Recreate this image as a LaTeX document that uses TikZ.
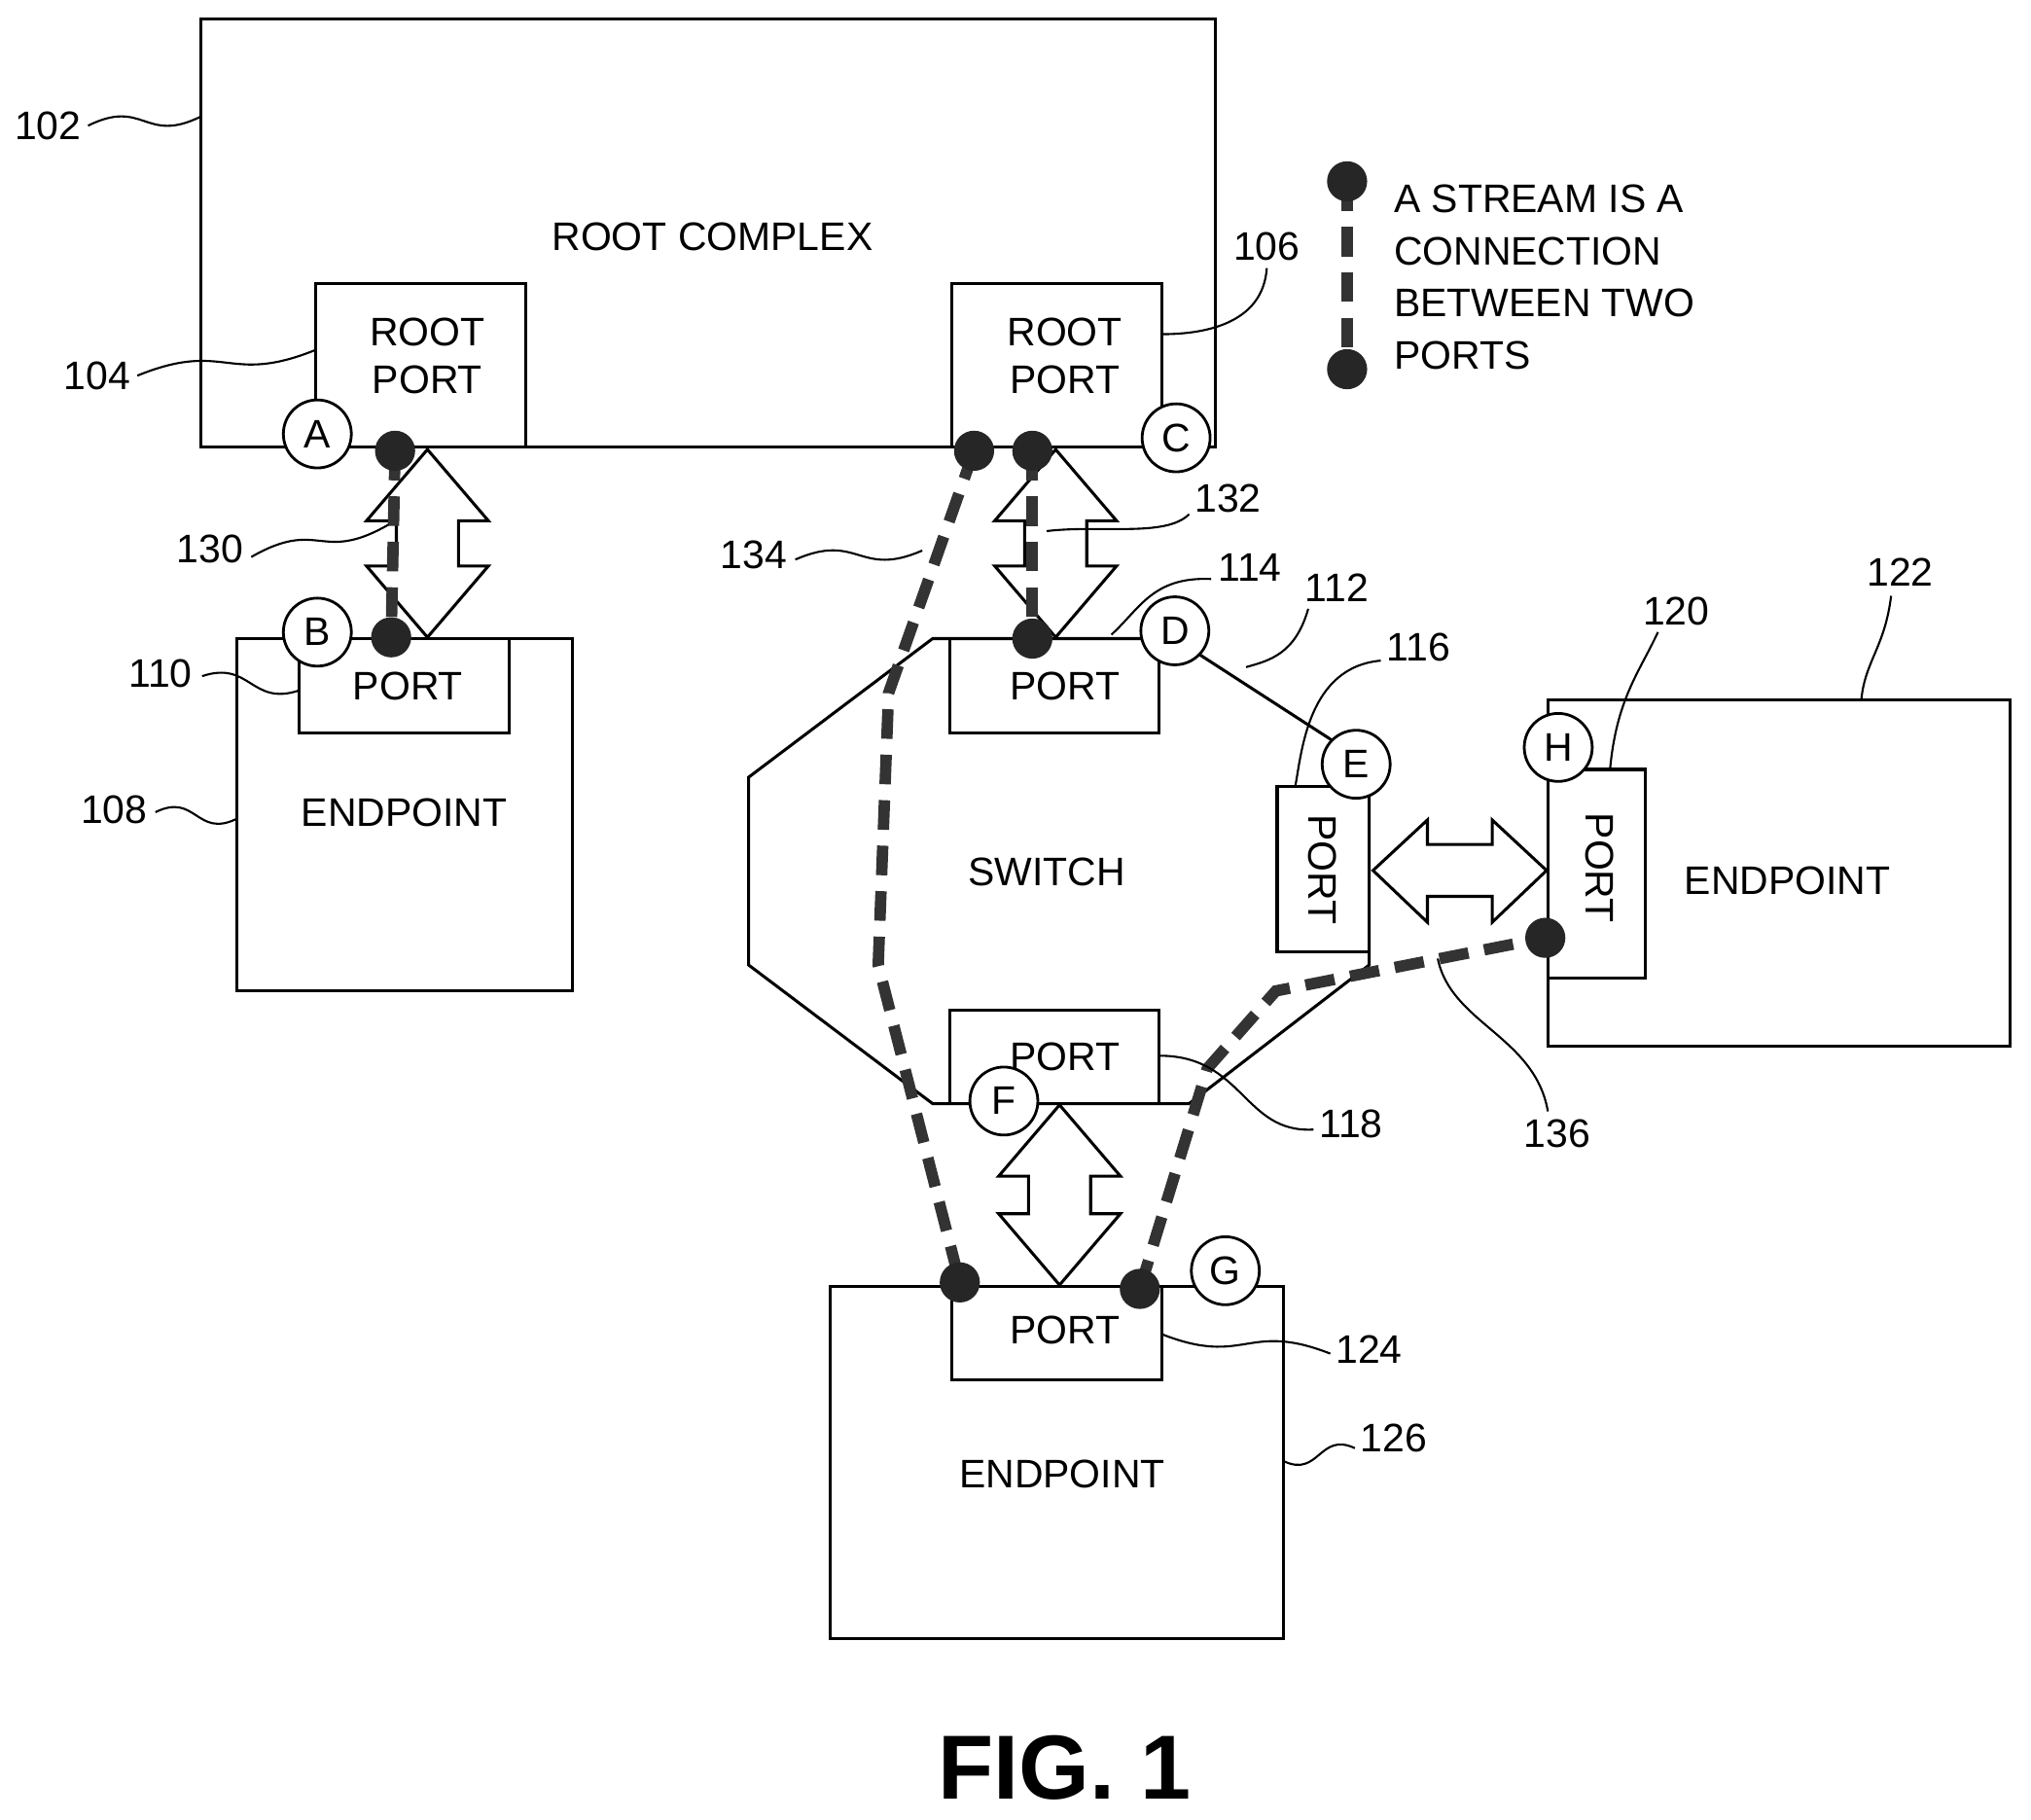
\documentclass[tikz,border=0pt]{standalone}
\usepackage{fontspec}
\setmainfont{Liberation Sans}
\usetikzlibrary{calc}
\begin{document}
\begin{tikzpicture}[x=0.02cm,y=-0.02cm,
  box/.style={draw,line width=1.3pt},
  lbl/.style={font=\fontsize{17.5}{21}\selectfont,align=center},
  num/.style={font=\fontsize{17.5}{21}\selectfont},
  circ/.style={draw,circle,fill=white,line width=1.2pt,minimum size=1.05cm,inner sep=0pt,font=\fontsize{17.5}{21}\selectfont},
  dot/.style={circle,fill=black!85,minimum size=0.62cm,inner sep=0pt},
  stream/.style={line width=5pt,dash pattern=on 13pt off 7pt,black!80},
  lead/.style={line width=0.9pt},
  harrow/.style={draw,fill=white,line width=1.3pt,line join=miter}]
\useasboundingbox (0,0) rectangle (1568,1405);
\newcommand{\leader}[2]{\draw[lead] (#1) .. controls ($(#1)!0.5!(#2)+(0,-18)$) and ($(#1)!0.5!(#2)+(0,18)$) .. (#2);}
% root complex
\draw[box] (155,15) rectangle (938,345);
\node[lbl] at (550,183) {ROOT COMPLEX};
\draw[box] (244,219) rectangle (406,345); \node[lbl] (rp1) at (330,275) {ROOT\\PORT};
\draw[box] (735,219) rectangle (897,345); \node[lbl] (rp2) at (822,275) {ROOT\\PORT};
% endpoint left
\draw[box] (183,493) rectangle (442,765);
\draw[box] (231,493) rectangle (393,566); \node[lbl] at (315,530) {PORT};
\node[lbl] at (312,627) {ENDPOINT};
% switch
\draw[box] (720,493) -- (907,493) -- (1057,590) -- (1057,745) -- (918,852) -- (720,852) -- (578,745) -- (578,600) -- cycle;
\node[lbl] at (808,673) {SWITCH};
\draw[box] (733,493) rectangle (895,566); \node[lbl] at (822,530) {PORT};
\draw[box] (986,607) rectangle (1057,735); \node[lbl,rotate=-90] at (1021,671) {PORT};
\draw[box,fill=white] (733,780) rectangle (895,852); \node[lbl] at (822,816) {PORT};
% endpoint right
\draw[box] (1195,540) rectangle (1552,808);
\draw[box] (1195,594) rectangle (1270,755); \node[lbl,rotate=-90] at (1235,670) {PORT};
\node[lbl] at (1380,680) {ENDPOINT};
% endpoint bottom
\draw[box] (641,993) rectangle (991,1265);
\draw[box] (735,993) rectangle (897,1065); \node[lbl] at (822,1027) {PORT};
\node[lbl] at (820,1138) {ENDPOINT};
% hollow double arrows
\newcommand{\vda}[3]{\draw[harrow] (#1,#2) -- (#1+47,#2+55) -- (#1+24,#2+55) -- (#1+24,#3-55) -- (#1+47,#3-55) -- (#1,#3) -- (#1-47,#3-55) -- (#1-24,#3-55) -- (#1-24,#2+55) -- (#1-47,#2+55) -- cycle;}
\vda{330}{347}{492}
\vda{815}{347}{492}
\vda{818}{853}{992}
\draw[harrow] (1060,672) -- (1102,633) -- (1102,652) -- (1152,652) -- (1152,633) -- (1194,672) -- (1152,712) -- (1152,692) -- (1102,692) -- (1102,712) -- cycle;
% dots
\coordinate (a1) at (305,348); \coordinate (b1) at (302,492);
\coordinate (c1) at (752,348); \coordinate (c2) at (797,348); \coordinate (d1) at (797,493);
\coordinate (g1) at (741,990); \coordinate (g2) at (880,995); \coordinate (h1) at (1193,724);
\coordinate (l1) at (1040,140); \coordinate (l2) at (1040,285);
% streams
\draw[stream] (a1) -- (b1);
\draw[stream] (c2) -- (d1);
\draw[stream] (c1) -- (686,535) -- (678,745) -- (g1);
\draw[stream] (g2) -- (932,825) -- (985,765) -- (h1);
\draw[stream] (l1) -- (l2);
\foreach \p in {a1,b1,c1,c2,d1,g1,g2,h1,l1,l2} \node[dot] at (\p) {};
% circles
\node[circ] (A) at (245,335) {A};
\node[circ] (B) at (245,488) {B};
\node[circ] (C) at (908,338) {C};
\node[circ] (D) at (907,487) {D};
\node[circ] (E) at (1047,590) {E};
\node[circ] (F) at (775,850) {F};
\node[circ] (G) at (946,981) {G};
\node[circ] (H) at (1203,577) {H};
% legend
\node[num,anchor=west,align=left] at (1070,214) {A STREAM IS A\\[2pt]CONNECTION\\[2pt]BETWEEN TWO\\[2pt]PORTS};
% reference numerals
\node[num] (n102) at (37,97) {102}; \leader{68,97}{155,90}
\node[num] (n104) at (75,290) {104}; \leader{106,290}{244,270}
\node[num] (n106) at (978,190) {106}; \draw[lead] (978,207) .. controls (975,250) and (930,258) .. (897,258);
\node[num] (n110) at (124,520) {110}; \leader{156,522}{231,533}
\node[num] (n108) at (88,625) {108}; \leader{120,627}{183,632}
\node[num] (n130) at (162,424) {130}; \leader{194,430}{300,405}
\node[num] (n134) at (582,428) {134}; \leader{614,432}{712,425}
\node[num] (n132) at (948,385) {132}; \draw[lead] (918,397) .. controls (900,415) and (850,405) .. (808,410);
\node[num] (n114) at (965,438) {114}; \draw[lead] (935,447) .. controls (890,445) and (880,470) .. (858,490);
\node[num] (n112) at (1032,454) {112}; \draw[lead] (1010,470) .. controls (1000,505) and (980,510) .. (962,515);
\node[num] (n116) at (1095,500) {116}; \draw[lead] (1066,510) .. controls (1010,515) and (1005,580) .. (1000,607);
\node[num] (n120) at (1294,472) {120}; \draw[lead] (1280,488) .. controls (1265,520) and (1248,540) .. (1243,594);
\node[num] (n122) at (1467,442) {122}; \draw[lead] (1460,460) .. controls (1455,500) and (1440,510) .. (1437,540);
\node[num] (n118) at (1043,868) {118}; \draw[lead] (1014,872) .. controls (960,875) and (960,815) .. (895,815);
\node[num] (n136) at (1202,875) {136}; \draw[lead] (1195,858) .. controls (1185,800) and (1120,790) .. (1110,740);
\node[num] (n124) at (1057,1042) {124}; \leader{1027,1045}{897,1030}
\node[num] (n126) at (1076,1110) {126}; \leader{1046,1118}{991,1128}
\node[font=\fontsize{40}{46}\selectfont\bfseries] at (822,1365) {FIG. 1};
\end{tikzpicture}
\end{document}
